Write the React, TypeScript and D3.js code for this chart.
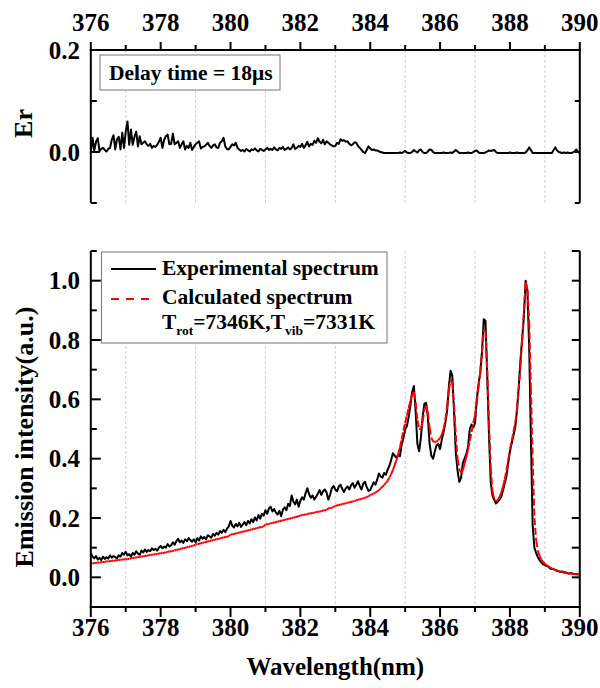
import React from "react";
import * as d3 from "d3";

// wavelength grid (nm): first value and spacing of the sampled spectra
const WL_START = 376;
const WL_STEP = 0.05;

const X_MAJOR = [376, 378, 380, 382, 384, 386, 388, 390];
const X_MINOR = [377, 379, 381, 383, 385, 387, 389];
const ER_MAJOR = [0, 0.2];
const ER_MINOR = [-0.1, 0.1];
const INT_MAJOR = [0, 0.2, 0.4, 0.6, 0.8, 1.0];
const INT_MINOR = [-0.1, 0.1, 0.3, 0.5, 0.7, 0.9, 1.1];

const LEGEND_TOP = "Delay time = 18μs";
const SERIES_NAMES = ["Experimental spectrum", "Calculated spectrum"];

// Er (residual), one value per 0.05 nm from 376.00 to 390.00
const erValues = [
  -0.002, 0.028, 0.003, 0.020, 0.027, 0.002, 0.006, 0.008, 0.004, 0.001, 0.006, 0.008, 0.024, 0.033, 0.005, 0.025, 0.030, 0.005, 0.038, 0.008,
  0.040, 0.060, 0.014, 0.044, 0.014, 0.030, 0.040, 0.011, 0.031, 0.015, 0.018, 0.021, 0.015, 0.012, 0.016, 0.008, 0.012, 0.010, 0.014, 0.020,
  0.028, 0.008, 0.024, 0.031, 0.034, 0.015, 0.016, 0.036, 0.015, 0.018, 0.021, 0.008, 0.015, 0.021, 0.005, 0.012, 0.008, 0.018, 0.004, 0.010,
  0.015, 0.018, 0.021, 0.007, 0.010, 0.011, 0.014, 0.018, 0.012, 0.008, 0.013, 0.015, 0.009, 0.008, 0.018, 0.021, 0.028, 0.011, 0.006, 0.005,
  0.010, 0.015, 0.013, 0.018, 0.008, 0.005, 0.002, 0.004, 0.001, 0.006, 0.003, 0.001, 0.005, 0.004, 0.007, 0.003, 0.001, 0.006, 0.004, 0.002,
  0.005, 0.008, 0.004, 0.006, 0.004, 0.009, 0.005, 0.003, 0.008, 0.006, 0.010, 0.004, 0.006, 0.009, 0.005, 0.008, 0.015, 0.006, 0.008, 0.012,
  0.010, 0.016, 0.008, 0.013, 0.020, 0.011, 0.016, 0.014, 0.022, 0.018, 0.027, 0.020, 0.017, 0.024, 0.015, 0.021, 0.018, 0.015, 0.013, 0.011,
  0.012, 0.018, 0.016, 0.025, 0.022, 0.023, 0.020, 0.021, 0.016, 0.013, 0.015, 0.019, 0.018, 0.012, 0.008, 0.004, 0.000, -0.002, 0.004, 0.011,
  0.007, 0.004, 0.005, 0.003, 0.003, 0.001, 0.000, -0.001, -0.002, -0.002, -0.002, -0.002, -0.002, -0.002, -0.002, -0.002, -0.002, -0.001, -0.002, 0.000,
  0.002, -0.001, -0.002, -0.002, 0.000, 0.004, 0.001, -0.001, 0.003, 0.005, 0.000, -0.002, -0.002, 0.001, 0.005, 0.004, 0.000, -0.002, -0.002, -0.002,
  -0.002, -0.002, -0.001, -0.002, -0.002, -0.002, -0.001, -0.002, 0.001, 0.004, 0.001, -0.002, -0.002, -0.002, -0.002, -0.002, -0.001, -0.002, -0.002, 0.000,
  0.002, 0.003, -0.001, -0.002, -0.002, -0.002, -0.001, 0.001, 0.003, 0.002, 0.003, 0.004, 0.000, -0.002, -0.002, -0.002, -0.002, -0.002, -0.002, -0.002,
  -0.001, -0.002, -0.002, -0.002, -0.001, -0.002, -0.002, -0.002, -0.002, -0.001, 0.003, 0.009, 0.004, -0.002, -0.002, -0.002, -0.002, -0.002, -0.002, -0.002,
  -0.002, -0.002, -0.002, -0.002, -0.002, 0.004, 0.009, 0.003, 0.000, -0.001, -0.002, -0.001, -0.002, -0.001, -0.002, -0.002, -0.001, 0.001, 0.005, 0.000, -0.002,
];

// Experimental spectrum, one value per 0.05 nm from 376.00 to 390.00
const experimental = [
  0.082, 0.070, 0.064, 0.072, 0.060, 0.066, 0.058, 0.070, 0.062, 0.068, 0.063, 0.074, 0.066, 0.072, 0.068, 0.064, 0.074, 0.070, 0.082, 0.076,
  0.086, 0.074, 0.078, 0.070, 0.082, 0.076, 0.088, 0.080, 0.076, 0.090, 0.084, 0.094, 0.086, 0.092, 0.088, 0.098, 0.092, 0.096, 0.090, 0.100,
  0.106, 0.098, 0.104, 0.100, 0.112, 0.104, 0.108, 0.118, 0.110, 0.122, 0.130, 0.118, 0.124, 0.116, 0.128, 0.122, 0.132, 0.126, 0.120, 0.128,
  0.118, 0.132, 0.124, 0.138, 0.130, 0.136, 0.128, 0.142, 0.138, 0.134, 0.146, 0.140, 0.150, 0.144, 0.156, 0.150, 0.160, 0.152, 0.164, 0.172,
  0.190, 0.174, 0.168, 0.180, 0.172, 0.184, 0.170, 0.178, 0.186, 0.176, 0.190, 0.182, 0.196, 0.186, 0.202, 0.192, 0.210, 0.198, 0.214, 0.208,
  0.226, 0.214, 0.232, 0.238, 0.222, 0.230, 0.218, 0.212, 0.224, 0.206, 0.228, 0.236, 0.226, 0.248, 0.240, 0.276, 0.256, 0.246, 0.262, 0.238,
  0.258, 0.270, 0.262, 0.284, 0.300, 0.280, 0.268, 0.276, 0.262, 0.272, 0.282, 0.294, 0.278, 0.290, 0.296, 0.286, 0.262, 0.278, 0.300, 0.308,
  0.296, 0.290, 0.306, 0.312, 0.298, 0.288, 0.300, 0.306, 0.296, 0.310, 0.318, 0.302, 0.312, 0.324, 0.308, 0.296, 0.316, 0.322, 0.304, 0.292,
  0.294, 0.308, 0.320, 0.312, 0.330, 0.350, 0.340, 0.336, 0.352, 0.346, 0.364, 0.376, 0.396, 0.418, 0.410, 0.404, 0.412, 0.408, 0.448, 0.470,
  0.498, 0.510, 0.540, 0.580, 0.625, 0.645, 0.560, 0.450, 0.425, 0.470, 0.540, 0.585, 0.588, 0.540, 0.450, 0.410, 0.400, 0.425, 0.445, 0.450,
  0.432, 0.465, 0.490, 0.520, 0.560, 0.640, 0.696, 0.680, 0.560, 0.420, 0.360, 0.322, 0.335, 0.385, 0.400, 0.415, 0.440, 0.500, 0.515, 0.505,
  0.520, 0.600, 0.650, 0.690, 0.760, 0.870, 0.865, 0.680, 0.480, 0.320, 0.275, 0.262, 0.249, 0.255, 0.262, 0.272, 0.292, 0.318, 0.340, 0.385,
  0.425, 0.452, 0.478, 0.505, 0.560, 0.640, 0.730, 0.805, 0.880, 1.000, 0.965, 0.780, 0.470, 0.175, 0.100, 0.082, 0.068, 0.058, 0.050, 0.044,
  0.042, 0.038, 0.036, 0.030, 0.028, 0.028, 0.024, 0.022, 0.020, 0.018, 0.020, 0.016, 0.017, 0.014, 0.013, 0.015, 0.012, 0.011, 0.010, 0.010, 0.011,
];

// Calculated spectrum, one value per 0.05 nm from 376.00 to 390.00
const calculated = [
  0.046, 0.048, 0.047, 0.049, 0.049, 0.051, 0.050, 0.052, 0.052, 0.054, 0.053, 0.055, 0.055, 0.057, 0.056, 0.058, 0.058, 0.060, 0.059, 0.061,
  0.060, 0.063, 0.062, 0.065, 0.064, 0.067, 0.066, 0.069, 0.068, 0.071, 0.070, 0.073, 0.072, 0.075, 0.074, 0.077, 0.076, 0.079, 0.078, 0.081,
  0.080, 0.083, 0.082, 0.085, 0.085, 0.088, 0.087, 0.090, 0.090, 0.093, 0.093, 0.096, 0.096, 0.099, 0.099, 0.102, 0.102, 0.105, 0.105, 0.108,
  0.110, 0.113, 0.112, 0.116, 0.115, 0.119, 0.118, 0.122, 0.121, 0.125, 0.124, 0.128, 0.127, 0.131, 0.130, 0.134, 0.133, 0.137, 0.136, 0.140,
  0.143, 0.146, 0.145, 0.149, 0.148, 0.152, 0.151, 0.155, 0.154, 0.158, 0.157, 0.161, 0.160, 0.164, 0.163, 0.167, 0.166, 0.170, 0.169, 0.173,
  0.177, 0.180, 0.179, 0.183, 0.182, 0.186, 0.185, 0.189, 0.188, 0.192, 0.191, 0.195, 0.194, 0.198, 0.197, 0.201, 0.200, 0.204, 0.203, 0.207,
  0.207, 0.211, 0.210, 0.213, 0.212, 0.216, 0.215, 0.218, 0.217, 0.221, 0.220, 0.223, 0.222, 0.226, 0.225, 0.228, 0.231, 0.235, 0.234, 0.238,
  0.240, 0.243, 0.243, 0.246, 0.246, 0.249, 0.249, 0.252, 0.252, 0.255, 0.255, 0.258, 0.259, 0.262, 0.262, 0.265, 0.266, 0.269, 0.270, 0.273,
  0.277, 0.280, 0.282, 0.286, 0.290, 0.294, 0.300, 0.305, 0.312, 0.318, 0.326, 0.336, 0.348, 0.362, 0.378, 0.395, 0.415, 0.438, 0.465, 0.495,
  0.520, 0.545, 0.570, 0.595, 0.620, 0.625, 0.590, 0.530, 0.500, 0.500, 0.525, 0.565, 0.578, 0.555, 0.505, 0.470, 0.458, 0.456, 0.458, 0.462,
  0.470, 0.482, 0.500, 0.530, 0.575, 0.630, 0.668, 0.655, 0.580, 0.480, 0.400, 0.365, 0.352, 0.360, 0.382, 0.405, 0.430, 0.460, 0.490, 0.520,
  0.545, 0.590, 0.640, 0.690, 0.760, 0.835, 0.830, 0.700, 0.520, 0.370, 0.290, 0.262, 0.256, 0.260, 0.270, 0.285, 0.305, 0.330, 0.360, 0.395,
  0.430, 0.460, 0.490, 0.520, 0.565, 0.630, 0.710, 0.800, 0.900, 0.995, 0.970, 0.860, 0.640, 0.400, 0.200, 0.125, 0.090, 0.072, 0.060, 0.052,
  0.046, 0.041, 0.037, 0.033, 0.030, 0.027, 0.025, 0.023, 0.021, 0.019, 0.018, 0.016, 0.015, 0.014, 0.013, 0.012, 0.011, 0.011, 0.010, 0.010, 0.010,
];

const FONT = "'Liberation Serif', 'Times New Roman', serif";
const W = 600;
const H = 688;

const toPoints = (vals: number[]) =>
  vals.map((v, i) => [WL_START + i * WL_STEP, v] as [number, number]);

export default function App() {
  const x = d3.scaleLinear().domain([376, 390]).range([90.8, 579.8]);
  const yEr = d3.scaleLinear().domain([-0.1, 0.2]).range([203, 50]);
  const yI = d3.scaleLinear().domain([-0.1, 1.1]).range([607, 251]);

  const erLine = d3
    .line<[number, number]>()
    .x((d) => x(d[0]))
    .y((d) => yEr(d[1]));
  const iLine = d3
    .line<[number, number]>()
    .x((d) => x(d[0]))
    .y((d) => yI(d[1]));

  const erPts = toPoints(erValues);
  const expPts = toPoints(experimental);
  const calcPts = toPoints(calculated);

  const [xl, xr] = x.range();
  const erTop = yEr(0.2);
  const erBot = yEr(-0.1);
  const iTop = yI(1.1);
  const iBot = yI(-0.1);
  const fmt = d3.format(".1f");

  const axisStroke = { stroke: "#000", strokeWidth: 2, fill: "none" };

  return (
    <div style={{ position: "absolute", left: 0, top: 0 }}>
      <svg width={W} height={H} style={{ display: "block", background: "#fff" }} fontFamily={FONT} fontWeight="bold">
        <rect x={0} y={0} width={W} height={H} fill="#fff" />

        {/* grid lines at minor x positions */}
        {X_MINOR.map((v) => (
          <g key={"g" + v}>
            <line x1={x(v)} x2={x(v)} y1={erTop} y2={erBot} stroke="#cfcfcf" strokeWidth={1} strokeDasharray="3,2" />
            <line x1={x(v)} x2={x(v)} y1={iTop} y2={iBot} stroke="#cfcfcf" strokeWidth={1} strokeDasharray="3,2" />
          </g>
        ))}

        {/* ---------- Top panel (Er) ---------- */}
        <path d={erLine(erPts) || ""} fill="none" stroke="#000" strokeWidth={2} strokeLinejoin="round" />
        <line x1={xl} x2={xl} y1={erTop} y2={erBot} {...axisStroke} />
        <line x1={xr} x2={xr} y1={erTop} y2={erBot} {...axisStroke} />
        <line x1={xl - 1} x2={xr + 1} y1={erTop} y2={erTop} {...axisStroke} />
        {X_MAJOR.map((v) => (
          <g key={"tt" + v}>
            <line x1={x(v)} x2={x(v)} y1={erTop} y2={erTop - 8} {...axisStroke} />
            <text x={x(v)} y={31} textAnchor="middle" fontSize={25}>{v}</text>
          </g>
        ))}
        {X_MINOR.map((v) => (
          <line key={"tm" + v} x1={x(v)} x2={x(v)} y1={erTop} y2={erTop - 5} {...axisStroke} />
        ))}
        {ER_MAJOR.map((v) => (
          <g key={"em" + v}>
            <line x1={xl} x2={xl + 9} y1={yEr(v)} y2={yEr(v)} {...axisStroke} />
            <line x1={xr} x2={xr - 5} y1={yEr(v)} y2={yEr(v)} {...axisStroke} />
            <text x={80} y={yEr(v) + 8.5} textAnchor="end" fontSize={25}>{fmt(v)}</text>
          </g>
        ))}
        {ER_MINOR.map((v) => (
          <g key={"en" + v}>
            <line x1={xl} x2={xl + 6} y1={yEr(v)} y2={yEr(v)} {...axisStroke} />
            <line x1={xr} x2={xr - 5} y1={yEr(v)} y2={yEr(v)} {...axisStroke} />
          </g>
        ))}
        <text transform={`translate(32,${(erTop + erBot) / 2 - 3}) rotate(-90)`} textAnchor="middle" fontSize={26}>Er</text>
        <rect x={100} y={55} width={180} height={35} fill="#fff" stroke="#777" strokeWidth={1} />
        <text x={109} y={80} fontSize={21.5}>{LEGEND_TOP}</text>

        {/* ---------- Bottom panel (intensity) ---------- */}
        <path d={iLine(expPts) || ""} fill="none" stroke="#000" strokeWidth={2} strokeLinejoin="round" />
        <g>
          {calcPts.slice(1).map((p, i) => {
            const a = calcPts[i];
            return (
              <line
                key={"c" + i}
                x1={x(a[0])}
                y1={yI(a[1])}
                x2={x(p[0])}
                y2={yI(p[1])}
                stroke="#ff0000"
                strokeWidth={2}
                strokeDasharray="7,3"
              />
            );
          })}
        </g>
        <line x1={xl} x2={xl} y1={iTop} y2={iBot} {...axisStroke} />
        <line x1={xr} x2={xr} y1={iTop} y2={iBot} {...axisStroke} />
        <line x1={xl - 1} x2={xr + 1} y1={iBot} y2={iBot} {...axisStroke} />
        {X_MAJOR.map((v) => (
          <g key={"bt" + v}>
            <line x1={x(v)} x2={x(v)} y1={iBot} y2={iBot + 10} {...axisStroke} />
            <text x={x(v)} y={636} textAnchor="middle" fontSize={25}>{v}</text>
          </g>
        ))}
        {X_MINOR.map((v) => (
          <line key={"bm" + v} x1={x(v)} x2={x(v)} y1={iBot} y2={iBot + 5} {...axisStroke} />
        ))}
        {INT_MAJOR.map((v) => (
          <g key={"im" + v}>
            <line x1={xl} x2={xl + 10} y1={yI(v)} y2={yI(v)} {...axisStroke} />
            <line x1={xr} x2={xr - 8} y1={yI(v)} y2={yI(v)} {...axisStroke} />
            <text x={80} y={yI(v) + 8.5} textAnchor="end" fontSize={25}>{fmt(v)}</text>
          </g>
        ))}
        {INT_MINOR.map((v) => (
          <g key={"in" + v}>
            <line x1={xl} x2={xl + 6} y1={yI(v)} y2={yI(v)} {...axisStroke} />
            <line x1={xr} x2={xr - 8} y1={yI(v)} y2={yI(v)} {...axisStroke} />
          </g>
        ))}
        <text transform={`translate(33,437) rotate(-90)`} textAnchor="middle" fontSize={26}>Emission intensity(a.u.)</text>
        <text x={(xl + xr) / 2} y={675} textAnchor="middle" fontSize={25}>Wavelength(nm)</text>

        {/* legend */}
        <rect x={101.5} y={252} width={285.5} height={91} fill="#fff" stroke="#777" strokeWidth={1} />
        <line x1={111} x2={156} y1={269} y2={269} stroke="#000" strokeWidth={2} />
        <text x={162} y={275} fontSize={21.5}>{SERIES_NAMES[0]}</text>
        <line x1={111} x2={156} y1={299} y2={299} stroke="#ff0000" strokeWidth={2} strokeDasharray="8,7" />
        <text x={162} y={304} fontSize={21.5}>{SERIES_NAMES[1]}</text>
        <text x={162} y={329} fontSize={21.5}>
          T<tspan fontSize={13.5} dy={6}>rot</tspan>
          <tspan dy={-6}>=7346K,T</tspan>
          <tspan fontSize={13.5} dy={6}>vib</tspan>
          <tspan dy={-6}>=7331K</tspan>
        </text>
      </svg>
    </div>
  );
}
